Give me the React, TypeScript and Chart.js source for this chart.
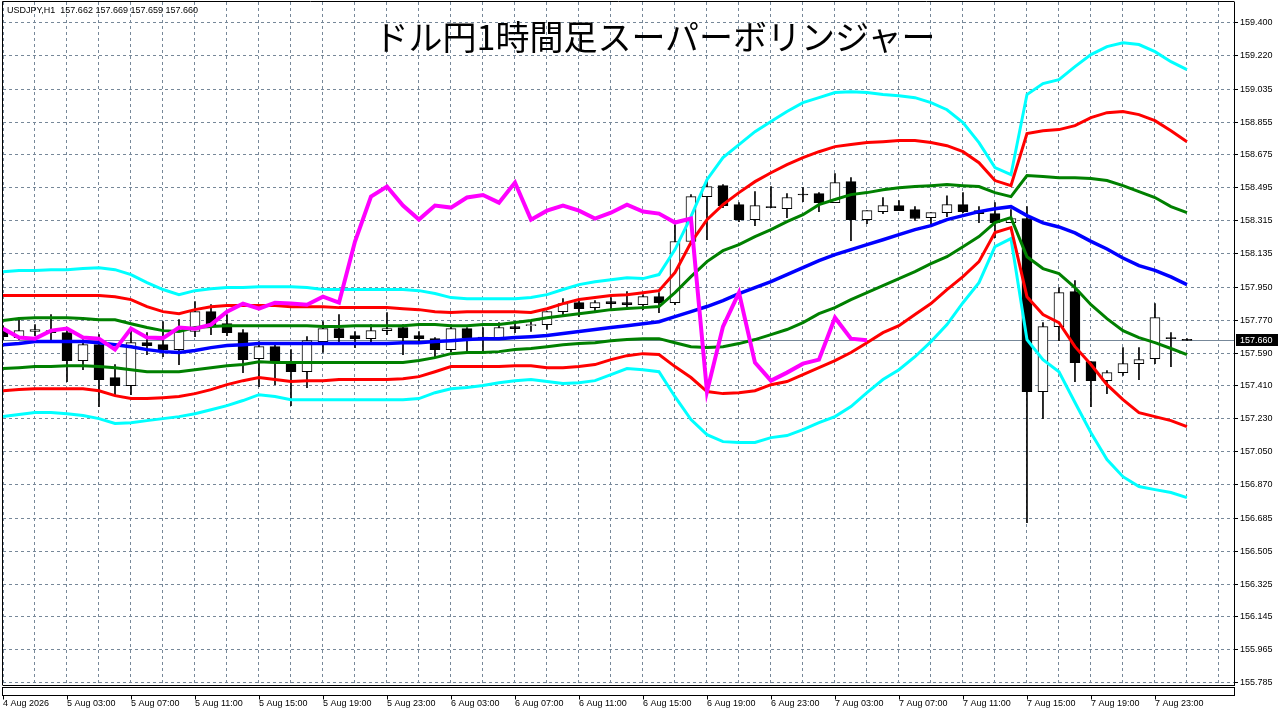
import React, { useEffect, useRef } from "react";
import { Chart, registerables } from "chart.js";

Chart.register(...registerables);

// ---------- data ----------
const titleText = "ドル円1時間足スーパーボリンジャー";
const headerText = "USDJPY,H1  157.662 157.669 157.659 157.660";
const lastPrice = 157.66;
const lastPriceLabel = "157.660";

// one label every 4 hourly bars, starting with bar 0
const xTickLabels = [
  "4 Aug 2026", "5 Aug 03:00", "5 Aug 07:00", "5 Aug 11:00", "5 Aug 15:00",
  "5 Aug 19:00", "5 Aug 23:00", "6 Aug 03:00", "6 Aug 07:00", "6 Aug 11:00",
  "6 Aug 15:00", "6 Aug 19:00", "6 Aug 23:00", "7 Aug 03:00", "7 Aug 07:00",
  "7 Aug 11:00", "7 Aug 15:00", "7 Aug 19:00", "7 Aug 23:00",
];

const yTickLabels = [
  "155.785", "155.965", "156.145", "156.325", "156.505", "156.685", "156.870",
  "157.050", "157.230", "157.410", "157.590", "157.770", "157.950", "158.135",
  "158.315", "158.495", "158.675", "158.855", "159.035", "159.220", "159.400",
];

const opens = [
  157.719, 157.675, 157.708, 157.713, 157.702, 157.549, 157.636, 157.456, 157.412, 157.647,
  157.636, 157.609, 157.708, 157.817, 157.751, 157.702, 157.560, 157.625, 157.543, 157.488,
  157.653, 157.724, 157.686, 157.669, 157.713, 157.730, 157.686, 157.669, 157.609, 157.724,
  157.678, 157.675, 157.735, 157.740, 157.746, 157.817, 157.866, 157.839, 157.872, 157.866,
  157.855, 157.899, 157.866, 158.201, 158.447, 158.507, 158.403, 158.321, 158.392, 158.381,
  158.458, 158.463, 158.414, 158.529, 158.321, 158.365, 158.398, 158.376, 158.332, 158.359,
  158.403, 158.370, 158.354, 158.305, 158.327, 157.379, 157.735, 157.927, 157.543, 157.439,
  157.483, 157.532, 157.560, 157.675, 157.662,
];

const highs = [
  157.741, 157.784, 157.746, 157.801, 157.719, 157.664, 157.691, 157.527, 157.730, 157.702,
  157.762, 157.773, 157.872, 157.855, 157.801, 157.719, 157.653, 157.636, 157.609, 157.680,
  157.762, 157.801, 157.708, 157.746, 157.812, 157.746, 157.708, 157.675, 157.746, 157.730,
  157.730, 157.757, 157.757, 157.762, 157.817, 157.888, 157.888, 157.877, 157.894, 157.927,
  157.910, 157.921, 158.294, 158.458, 158.540, 158.513, 158.414, 158.474, 158.502, 158.463,
  158.496, 158.469, 158.573, 158.551, 158.370, 158.442, 158.425, 158.392, 158.359, 158.452,
  158.469, 158.392, 158.414, 158.376, 158.392, 157.757, 157.949, 157.987, 157.543, 157.494,
  157.620, 157.620, 157.861, 157.702, 157.669,
];

const lows = [
  157.664, 157.664, 157.686, 157.664, 157.434, 157.499, 157.296, 157.362, 157.362, 157.582,
  157.571, 157.527, 157.680, 157.691, 157.686, 157.483, 157.406, 157.417, 157.302, 157.401,
  157.593, 157.647, 157.620, 157.642, 157.691, 157.582, 157.653, 157.571, 157.598, 157.598,
  157.598, 157.664, 157.702, 157.708, 157.719, 157.795, 157.790, 157.812, 157.833, 157.844,
  157.828, 157.812, 157.855, 158.184, 158.211, 158.387, 158.310, 158.288, 158.387, 158.332,
  158.420, 158.365, 158.414, 158.206, 158.299, 158.354, 158.370, 158.316, 158.294, 158.337,
  158.359, 158.305, 158.222, 158.305, 156.661, 157.231, 157.658, 157.434, 157.296, 157.368,
  157.467, 157.445, 157.532, 157.516, 157.659,
];

const closes = [
  157.680, 157.713, 157.719, 157.702, 157.549, 157.636, 157.445, 157.412, 157.647, 157.631,
  157.609, 157.713, 157.817, 157.746, 157.702, 157.554, 157.625, 157.549, 157.488, 157.658,
  157.724, 157.675, 157.669, 157.713, 157.724, 157.675, 157.669, 157.609, 157.724, 157.675,
  157.672, 157.730, 157.724, 157.746, 157.817, 157.861, 157.833, 157.866, 157.861, 157.855,
  157.899, 157.866, 158.201, 158.447, 158.502, 158.398, 158.321, 158.398, 158.387, 158.442,
  158.456, 158.414, 158.524, 158.321, 158.370, 158.398, 158.370, 158.327, 158.359, 158.403,
  158.365, 158.354, 158.305, 158.327, 157.379, 157.735, 157.921, 157.538, 157.439, 157.483,
  157.532, 157.554, 157.784, 157.669, 157.660,
];

// Bollinger middle line (blue)
const middleBand = [
  157.636, 157.642, 157.653, 157.653, 157.653, 157.653, 157.647, 157.636, 157.625, 157.609,
  157.598, 157.593, 157.604, 157.620, 157.631, 157.636, 157.642, 157.642, 157.642, 157.642,
  157.642, 157.642, 157.642, 157.642, 157.642, 157.647, 157.647, 157.653, 157.658, 157.664,
  157.669, 157.669, 157.675, 157.680, 157.686, 157.697, 157.708, 157.719, 157.730, 157.740,
  157.751, 157.762, 157.790, 157.817, 157.845, 157.877, 157.916, 157.948, 157.981, 158.020,
  158.058, 158.096, 158.129, 158.157, 158.184, 158.211, 158.239, 158.266, 158.288, 158.321,
  158.343, 158.365, 158.381, 158.392, 158.343, 158.303, 158.281, 158.248, 158.202, 158.160,
  158.111, 158.069, 158.043, 158.007, 157.965,
];

// +1 sigma (green)
const upper1 = [
  157.768, 157.779, 157.784, 157.784, 157.784, 157.779, 157.773, 157.773, 157.751, 157.730,
  157.713, 157.708, 157.730, 157.735, 157.740, 157.740, 157.740, 157.740, 157.740, 157.740,
  157.735, 157.735, 157.740, 157.740, 157.740, 157.740, 157.746, 157.746, 157.740, 157.740,
  157.746, 157.746, 157.757, 157.768, 157.784, 157.795, 157.806, 157.817, 157.828, 157.834,
  157.839, 157.845, 157.921, 158.009, 158.091, 158.151, 158.184, 158.228, 158.266, 158.310,
  158.348, 158.403, 158.431, 158.458, 158.469, 158.485, 158.496, 158.502, 158.507, 158.513,
  158.507, 158.502, 158.469, 158.447, 158.562, 158.557, 158.551, 158.551, 158.546, 158.535,
  158.507, 158.474, 158.442, 158.392, 158.359,
];

// -1 sigma (green)
const lower1 = [
  157.505, 157.510, 157.516, 157.516, 157.521, 157.521, 157.516, 157.510, 157.499, 157.488,
  157.488, 157.488, 157.499, 157.510, 157.521, 157.527, 157.543, 157.538, 157.538, 157.538,
  157.538, 157.538, 157.538, 157.538, 157.538, 157.538, 157.549, 157.565, 157.587, 157.593,
  157.593, 157.598, 157.609, 157.615, 157.625, 157.636, 157.642, 157.647, 157.658, 157.664,
  157.669, 157.669, 157.647, 157.625, 157.620, 157.625, 157.642, 157.664, 157.691, 157.719,
  157.757, 157.806, 157.839, 157.883, 157.921, 157.960, 157.998, 158.036, 158.080, 158.118,
  158.173, 158.228, 158.305, 158.332, 158.118, 158.053, 158.025, 157.949, 157.855, 157.779,
  157.713, 157.675, 157.647, 157.615, 157.582,
];

// +2 sigma (red)
const upper2 = [
  157.905, 157.905, 157.905, 157.905, 157.905, 157.905, 157.905, 157.899, 157.883, 157.844,
  157.817, 157.806, 157.828, 157.844, 157.850, 157.850, 157.850, 157.850, 157.844, 157.844,
  157.844, 157.839, 157.839, 157.839, 157.839, 157.833, 157.828, 157.817, 157.812, 157.817,
  157.817, 157.817, 157.817, 157.812, 157.833, 157.861, 157.883, 157.894, 157.905, 157.910,
  157.921, 157.932, 158.031, 158.195, 158.321, 158.403, 158.469, 158.529, 158.578, 158.622,
  158.661, 158.693, 158.721, 158.732, 158.743, 158.748, 158.754, 158.754, 158.743, 158.726,
  158.693, 158.633, 158.535, 158.507, 158.792, 158.808, 158.814, 158.836, 158.880, 158.907,
  158.913, 158.896, 158.863, 158.808, 158.748,
];

// -2 sigma (red)
const lower2 = [
  157.384, 157.390, 157.395, 157.395, 157.395, 157.395, 157.384, 157.357, 157.341, 157.341,
  157.346, 157.352, 157.368, 157.390, 157.417, 157.439, 157.456, 157.445, 157.434, 157.439,
  157.439, 157.445, 157.445, 157.445, 157.445, 157.450, 157.461, 157.488, 157.516, 157.516,
  157.516, 157.516, 157.521, 157.521, 157.510, 157.510, 157.516, 157.527, 157.554, 157.576,
  157.587, 157.582, 157.516, 157.456, 157.379, 157.368, 157.373, 157.384, 157.417, 157.434,
  157.472, 157.510, 157.549, 157.593, 157.647, 157.702, 157.740, 157.801, 157.861, 157.938,
  158.009, 158.091, 158.250, 158.277, 157.899, 157.801, 157.757, 157.625, 157.527, 157.417,
  157.335, 157.264, 157.242, 157.220, 157.187,
];

// +3 sigma (aqua)
const upper3 = [
  158.036, 158.042, 158.042, 158.047, 158.047, 158.053, 158.058, 158.047, 158.020, 157.976,
  157.938, 157.910, 157.932, 157.943, 157.949, 157.949, 157.954, 157.954, 157.954, 157.949,
  157.938, 157.938, 157.938, 157.938, 157.938, 157.938, 157.932, 157.916, 157.894, 157.888,
  157.888, 157.888, 157.888, 157.894, 157.910, 157.938, 157.965, 157.981, 157.992, 158.003,
  157.998, 158.020, 158.157, 158.337, 158.540, 158.661, 158.732, 158.803, 158.858, 158.913,
  158.962, 158.989, 159.017, 159.022, 159.017, 159.006, 159.000, 158.989, 158.962, 158.923,
  158.852, 158.743, 158.606, 158.567, 159.006, 159.066, 159.088, 159.159, 159.225, 159.269,
  159.290, 159.280, 159.241, 159.186, 159.143,
];

// -3 sigma (aqua)
const lower3 = [
  157.242, 157.253, 157.264, 157.264, 157.258, 157.248, 157.231, 157.204, 157.209, 157.220,
  157.231, 157.242, 157.258, 157.280, 157.302, 157.330, 157.362, 157.352, 157.335, 157.335,
  157.335, 157.335, 157.335, 157.335, 157.335, 157.335, 157.341, 157.373, 157.395, 157.401,
  157.412, 157.428, 157.439, 157.445, 157.434, 157.423, 157.428, 157.439, 157.472, 157.505,
  157.499, 157.488, 157.351, 157.226, 157.143, 157.105, 157.100, 157.100, 157.127, 157.138,
  157.171, 157.209, 157.242, 157.297, 157.373, 157.445, 157.499, 157.570, 157.653, 157.746,
  157.866, 157.976, 158.173, 158.217, 157.664, 157.554, 157.488, 157.319, 157.154, 157.007,
  156.913, 156.859, 156.842, 156.826, 156.798,
];

// lagging span (magenta), plotted from bar 0
const laggingSpan = [
  157.724, 157.675, 157.669, 157.713, 157.724, 157.675, 157.669, 157.609, 157.724, 157.675,
  157.672, 157.730, 157.724, 157.746, 157.817, 157.861, 157.833, 157.866, 157.861, 157.855,
  157.899, 157.866, 158.201, 158.447, 158.502, 158.398, 158.321, 158.398, 158.387, 158.442,
  158.456, 158.414, 158.524, 158.321, 158.370, 158.398, 158.370, 158.327, 158.359, 158.403,
  158.365, 158.354, 158.305, 158.327, 157.379, 157.735, 157.921, 157.538, 157.439, 157.483,
  157.532, 157.554, 157.784, 157.669, 157.660,
];

// ---------- chart ----------
const FONT = "'Liberation Sans', Arial, sans-serif";
const GRID = "#778899";
const X_MAX = 76.94;
const Y_MIN = 155.772;
const Y_MAX = 159.513;

const toPoints = (arr: number[]) => arr.map((v, i) => ({ x: i, y: v }));

const line = (label: string, data: number[], color: string, width: number, order: number) => ({
  type: "line" as const,
  label,
  data: toPoints(data),
  borderColor: color,
  backgroundColor: color,
  borderWidth: width,
  pointRadius: 0,
  tension: 0,
  fill: false,
  order,
  clip: 0,
});

const mt4Frame = {
  id: "mt4Frame",
  beforeDatasetsDraw(chart: any) {
    const { ctx, chartArea, scales } = chart;
    const y = Math.round(scales.y.getPixelForValue(lastPrice)) + 0.5;
    ctx.save();
    ctx.strokeStyle = GRID;
    ctx.lineWidth = 1;
    ctx.beginPath();
    ctx.moveTo(chartArea.left, y);
    ctx.lineTo(chartArea.right, y);
    ctx.stroke();
    ctx.restore();
  },
  afterDraw(chart: any) {
    const { ctx, chartArea, scales } = chart;
    const { left, right, top, bottom } = chartArea;
    ctx.save();
    ctx.strokeStyle = "#000";
    ctx.lineWidth = 1;
    ctx.beginPath();
    ctx.moveTo(left - 0.5, bottom + 0.5);
    ctx.lineTo(left - 0.5, top - 0.5);
    ctx.lineTo(right + 0.5, top - 0.5);
    ctx.stroke();
    // empty sub-window strip
    ctx.fillStyle = "#fff";
    ctx.fillRect(left - 0.5, bottom + 2.5, right - left + 1, 8);
    ctx.strokeRect(left - 0.5, bottom + 2.5, right - left + 1, 8);
    // tick marks under strip
    ctx.beginPath();
    xTickLabels.forEach((_, k) => {
      const px = Math.round(scales.x.getPixelForValue(k * 4)) + 0.5;
      ctx.moveTo(px, bottom + 10.5);
      ctx.lineTo(px, bottom + 14.5);
    });
    ctx.stroke();
    // last price box
    const py = Math.round(scales.y.getPixelForValue(lastPrice));
    ctx.fillStyle = "#000";
    ctx.fillRect(right + 2, py - 6, 42, 12);
    ctx.fillStyle = "#fff";
    ctx.font = `9px ${FONT}`;
    ctx.textBaseline = "middle";
    ctx.textAlign = "left";
    ctx.fillText(lastPriceLabel, right + 6, py + 0.5);
    ctx.restore();
  },
};

export default function App() {
  const canvasRef = useRef<HTMLCanvasElement | null>(null);

  useEffect(() => {
    if (!canvasRef.current) return;
    const idx = opens.map((_, i) => i);
    const chart = new Chart(canvasRef.current, {
      type: "line",
      data: {
        datasets: [
          {
            type: "bar",
            label: "wick",
            data: idx.map((i) => ({ x: i, y: [lows[i], highs[i]] })),
            backgroundColor: "#000",
            borderWidth: 0,
            barThickness: 1,
            grouped: false,
            order: 20,
            clip: 0,
          } as any,
          {
            type: "bar",
            label: "body",
            data: idx.map((i) => ({ x: i, y: [opens[i], closes[i]] })),
            backgroundColor: idx.map((i) => (closes[i] >= opens[i] ? "#ffffff" : "#000000")),
            borderColor: "#000",
            borderWidth: 1,
            borderSkipped: false,
            barThickness: 10,
            minBarLength: 1,
            grouped: false,
            order: 19,
            clip: 0,
          } as any,
          line("+3σ", upper3, "#00ffff", 3, 8),
          line("-3σ", lower3, "#00ffff", 3, 8),
          line("+2σ", upper2, "#ff0000", 3, 7),
          line("-2σ", lower2, "#ff0000", 3, 7),
          line("+1σ", upper1, "#008000", 3, 6),
          line("-1σ", lower1, "#008000", 3, 6),
          line("MA", middleBand, "#0000ff", 3.5, 5),
          line("遅行スパン", laggingSpan, "#ff00ff", 4, 4),
        ] as any,
      },
      options: {
        animation: false,
        responsive: false,
        maintainAspectRatio: false,
        devicePixelRatio: 1,
        events: [],
        layout: { padding: { left: 3, top: 2, right: 0, bottom: 0 } },
        plugins: {
          legend: { display: false },
          tooltip: { enabled: false },
          title: { display: false },
        },
        scales: {
          x: {
            type: "linear",
            min: 0,
            max: X_MAX,
            offset: false,
            afterBuildTicks: (s: any) => {
              const t = [];
              for (let v = 0; v <= X_MAX; v += 2) t.push({ value: v });
              s.ticks = t;
            },
            afterFit: (s: any) => {
              s.height = 31;
              s.paddingLeft = 0;
              s.paddingRight = 0;
            },
            grid: { color: GRID, lineWidth: 1, drawTicks: false, offset: false },
            border: { display: true, color: "#000", width: 1, dash: [3, 3] },
            ticks: {
              autoSkip: false,
              maxRotation: 0,
              minRotation: 0,
              align: "start",
              padding: 13,
              color: "#000",
              font: { family: FONT, size: 9 },
              callback: (v: any) => (Number(v) % 4 === 0 ? xTickLabels[Number(v) / 4] ?? "" : ""),
            },
          },
          y: {
            type: "linear",
            position: "right",
            min: Y_MIN,
            max: Y_MAX,
            afterBuildTicks: (s: any) => {
              s.ticks = yTickLabels.map((l) => ({ value: Number(l) }));
            },
            afterFit: (s: any) => {
              s.width = 46;
              s.paddingTop = 0;
              s.paddingBottom = 0;
            },
            grid: {
              color: GRID,
              lineWidth: 1,
              drawTicks: true,
              tickLength: 4,
              tickColor: "#000",
              tickBorderDash: [],
            },
            border: { display: true, color: "#000", width: 1, dash: [3, 3] },
            ticks: {
              autoSkip: false,
              padding: 2,
              color: "#000",
              font: { family: FONT, size: 9 },
              callback: (_v: any, i: number) => yTickLabels[i],
            },
          },
        },
      } as any,
      plugins: [mt4Frame],
    });
    return () => chart.destroy();
  }, []);

  return (
    <div style={{ position: "fixed", left: 0, top: 0, width: 1280, height: 716, background: "#fff" }}>
      <canvas ref={canvasRef} width={1280} height={716} style={{ display: "block", width: 1280, height: 716 }} />
      <div
        style={{
          position: "absolute",
          left: 7,
          top: 4,
          fontFamily: FONT,
          fontSize: 9,
          lineHeight: "12px",
          color: "#000",
          whiteSpace: "pre",
        }}
      >
        {headerText}
      </div>
      <div
        style={{
          position: "absolute",
          left: 255,
          width: 800,
          top: 19,
          textAlign: "center",
          fontFamily: "'Noto Sans CJK JP', sans-serif",
          fontSize: 34,
          lineHeight: "34px",
          letterSpacing: 0,
          color: "#000",
          whiteSpace: "nowrap",
        }}
      >
        {titleText}
      </div>
    </div>
  );
}
